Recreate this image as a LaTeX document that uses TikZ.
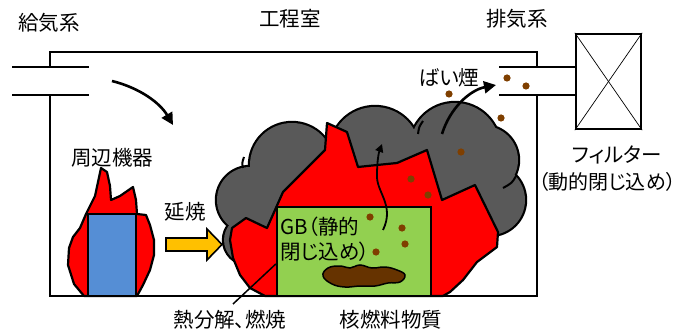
\documentclass[tikz,border=0pt]{standalone}
\usepackage{fontspec}
\setmainfont{Noto Sans CJK JP}[CharacterWidth=AlternateProportional]
\usetikzlibrary{arrows.meta}
\definecolor{flame}{HTML}{FF0000}
\definecolor{smoke}{HTML}{595959}
\definecolor{gbgreen}{HTML}{92D050}
\definecolor{equip}{HTML}{558ED5}
\definecolor{spread}{HTML}{FFC000}
\definecolor{particle}{HTML}{7F3F00}
\definecolor{fuel}{HTML}{663300}
\begin{document}
\begin{tikzpicture}[x=1pt,y=-1pt,
  wall/.style={line width=2.2pt,line cap=rect},
  outline/.style={draw=black,line width=2.2pt,line join=round},
  lbl/.style={font=\fontsize{20.5}{24}\selectfont,inner sep=0pt},
  particle dot/.style={fill=particle},
  flow/.style={line width=2.6pt,-{Triangle[length=12pt,width=12pt]}},
  rise/.style={line width=1.8pt,-{Triangle[length=8pt,width=8pt]}},
]
\useasboundingbox (0,0) rectangle (687,331);

% room walls with supply and exhaust openings
\draw[wall] (50,67) -- (50,52) -- (537,52) -- (537,67);
\draw[wall] (50,95) -- (50,296) -- (537,296) -- (537,95);
% supply duct
\draw[wall,line cap=butt] (12,67) -- (89,67);
\draw[wall,line cap=butt] (12,95) -- (89,95);
% exhaust duct and filter
\draw[wall,line cap=butt] (499,67) -- (576,67);
\draw[wall,line cap=butt] (499,95) -- (576,95);
\node[draw,line width=2.4pt,minimum width=65pt,minimum height=95pt,inner sep=0pt] (filter) at (608.5,81.5) {};
\draw[line width=0.7pt] (filter.north west) -- (filter.south east);
\draw[line width=0.7pt] (filter.north east) -- (filter.south west);

% peripheral equipment on fire
\draw[outline,fill=flame] (84,296) -- (74,284) -- (68,265) -- (69,248) -- (73,237)
  -- (80,228) -- (86,214) -- (95,196) -- (98,182) -- (101,168) -- (107,172)
  -- (110,186) -- (111,200) -- (120,196) -- (133,187) -- (136,200) -- (137,214)
  -- (146,215) -- (150,225) -- (154,240) -- (154,255) -- (150,270) -- (143,285)
  -- (137,296) -- cycle;
\node[draw,line width=2.2pt,fill=equip,minimum width=48pt,minimum height=82pt,inner sep=0pt] (equipment) at (112,255) {};

% fire spreading arrow
\draw[line width=1.6pt,fill=spread,line join=miter] (166,238) -- (207,238) -- (207,229)
  -- (222,244.5) -- (207,260) -- (207,251) -- (166,251) -- cycle;

% smoke cloud: union of lobes, outline drawn wide then covered by the fills
\foreach \cx/\cy/\r in {250/200/33pt, 292/165/42pt, 375/152/45pt, 455/148/45pt,
    484/160/34pt, 490/200/35pt, 248/240/24pt, 330/205/50pt, 400/205/55pt, 450/200/40pt}
  \draw[line width=4.4pt] (\cx,\cy) circle[radius=\r];
\foreach \cx/\cy/\r in {250/200/33pt, 292/165/42pt, 375/152/45pt, 455/148/45pt,
    484/160/34pt, 490/200/35pt, 248/240/24pt, 330/205/50pt, 400/205/55pt, 450/200/40pt}
  \fill[smoke] (\cx,\cy) circle[radius=\r];
% inner lobe seams
\draw[line width=2pt] (243,168) .. controls (242,163) .. (244,157);
\draw[line width=2pt] (418,134) .. controls (419,127) .. (423,121);
\draw[line width=2pt] (516,176) .. controls (512,183) .. (503,188);

% main fire in front of the smoke
\draw[outline,fill=flame] (265,296) -- (250,288) -- (240,275) -- (233,258) -- (230,240)
  -- (232,228) -- (246,218) -- (267,228) -- (283,192) -- (325,150) -- (327,123)
  -- (347,132) -- (358,167) -- (377,165) -- (397,163) -- (427,150) -- (442,200)
  -- (475,185) -- (498,232) -- (497,247) -- (477,262) -- (463,280) -- (450,292)
  -- (443,296) -- cycle;

% glove box
\node[draw,line width=2.4pt,fill=gbgreen,minimum width=154pt,minimum height=89pt,inner sep=0pt] (gb) at (354,251.5) {};
\node[lbl,anchor=west] (gbname) at (280,227) {GB（静的};
\node[lbl,anchor=west] (gbconf) at (280,252) {閉じ込め）};

% nuclear fuel material
\draw[line width=1.5pt,fill=fuel] plot[smooth cycle,tension=0.7] coordinates {
  (323,276) (328,268) (340,266) (350,268) (360,265) (372,268) (385,267) (397,270)
  (405,275) (400,282) (388,283) (375,286) (360,286) (345,287) (332,284)};

% airborne particles
\foreach \px/\py in {507/78, 526/86, 449/94, 501/118, 461/152, 411/179, 428/195,
    370/217, 402/228, 405/244, 376/252}
  \fill[particle dot] (\px,\py) circle[radius=3.6pt];

% flow arrows
\coordinate (supply) at (112,81);
\coordinate (intoRoom) at (173,125);
\draw[flow] (supply) .. controls (140,88) and (160,103) .. (intoRoom);
\coordinate (smokeTop) at (442,134);
\coordinate (exhaustIn) at (496,85);
\draw[flow] (smokeTop) .. controls (450,108) and (470,90) .. (exhaustIn);
\coordinate (gbLeak) at (383,230);
\coordinate (plumeTop) at (382,144);
\draw[rise] (gbLeak) .. controls (395,205) and (376,192) .. (377,175)
  .. controls (377,160) and (379,152) .. (plumeTop);

% pyrolysis leader
\coordinate (pyroFoot) at (233,304);
\draw[line width=1.5pt] (pyroFoot) -- (gb.west |- 0,264);

% labels
\node[lbl] (supplyName) at (49,23) {給気系};
\node[lbl] (roomName) at (290,19) {工程室};
\node[lbl] (exhaustName) at (517,19) {排気系};
\node[lbl] (filterName) at (617,155) {フィルター};
\node[lbl,anchor=east,font=\fontsize{20}{24}\selectfont] (filterConf) at (676,182) {（動的閉じ込め）};
\node[lbl] (equipName) at (112,158) {周辺機器};
\node[lbl] (spreadName) at (185,212) {延焼};
\node[lbl] (smokeName) at (449,78) {ばい煙};
\node[lbl] (pyroName) at (230,320) {熱分解、燃焼};
\node[lbl] (fuelName) at (391,320) {核燃料物質};
\end{tikzpicture}
\end{document}
